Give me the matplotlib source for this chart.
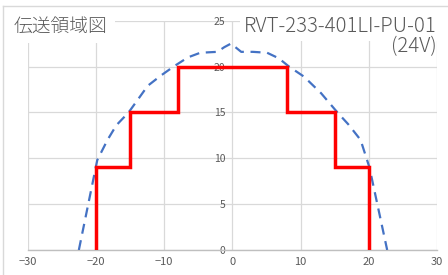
import matplotlib
matplotlib.use("Agg")
import matplotlib.pyplot as plt
from matplotlib.lines import Line2D

plt.rcParams['font.family'] = ['Noto Sans CJK JP', 'DejaVu Sans']

# red step outline (transmission area)
area_x = [-20, -20, -15, -15, -8, -8, 8, 8, 15, 15, 20, 20]
area_y = [0, 9, 9, 15, 15, 20, 20, 15, 15, 9, 9, 0]

# blue dashed measured curve
curve_x = [-22.5, -19.8, -18.3, -17, -15.2, -12.4, -10.5, -8.6, -6.5, -4.7, -2.2, -1.2, -0.2,
           1.3, 3, 5.1, 6.8, 8.3, 10.5, 13, 15.4, 17, 18.8, 20.1, 22.7]
curve_y = [0, 9.8, 12, 13.6, 15, 17.9, 19, 20, 21, 21.5, 21.6, 22.1, 22.5,
           21.6, 21.6, 21.5, 20.9, 20, 18.9, 17.1, 15, 13.7, 12, 9, 0]

xticks = [-30, -20, -10, 0, 10, 20, 30]
yticks = [0, 5, 10, 15, 20, 25]

title = "伝送領域図"
model = "RVT-233-401LI-PU-01"
voltage = "(24V)"

fig = plt.figure(figsize=(4.48, 2.75), dpi=100)
ax = fig.add_axes([0.0618, 0.0909, 0.9136, 0.834])

grid_c = '#d9d9d9'
label_c = '#595959'

ax.plot(curve_x, curve_y, color='#4472c4', lw=1.6, ls=(0, (4.5, 3)), zorder=3)
ax.plot(area_x, area_y, color='#ff0000', lw=2.5, zorder=4, solid_joinstyle='miter')

ax.set_xlim(-30, 30)
ax.set_ylim(0, 25)
ax.set_xticks(xticks)
ax.set_yticks(yticks)
ax.set_xticklabels([str(v).replace('-', '\u2212') for v in xticks])
ax.grid(True, color=grid_c, lw=0.9, zorder=0)
ax.set_axisbelow(True)

for s in ['top', 'right', 'left']:
    ax.spines[s].set_visible(False)
ax.spines['bottom'].set_color('#bfbfbf')
ax.spines['bottom'].set_linewidth(1.0)
ax.spines['left'].set_position(('data', 0))

ax.tick_params(axis='x', length=0, pad=5, labelsize=8, labelcolor=label_c)
ax.tick_params(axis='y', length=0, pad=5, labelsize=7.5, labelcolor=label_c)

# titles with white boxes hiding the grid behind them
fig.text(0.031, 0.885, title, fontsize=13.5, color=label_c, ha='left', va='baseline',
         fontweight='light',
         bbox=dict(facecolor='white', edgecolor='none', pad=5))
fig.text(0.9755, 0.885, model, fontsize=14.7, color=label_c, ha='right', va='baseline',
         fontweight='light',
         bbox=dict(facecolor='white', edgecolor='none', pad=3))
fig.text(0.9755, 0.812, voltage, fontsize=14.7, color=label_c, ha='right', va='baseline',
         fontweight='light', zorder=5)

# chart frame (left and top edges visible)
fig.add_artist(Line2D([0.007, 0.007], [0, 0.979], transform=fig.transFigure,
                      color='#d9d9d9', lw=1))
fig.add_artist(Line2D([0.007, 1], [0.979, 0.979], transform=fig.transFigure,
                      color='#d9d9d9', lw=1))

fig.savefig('out.png', dpi=100)
